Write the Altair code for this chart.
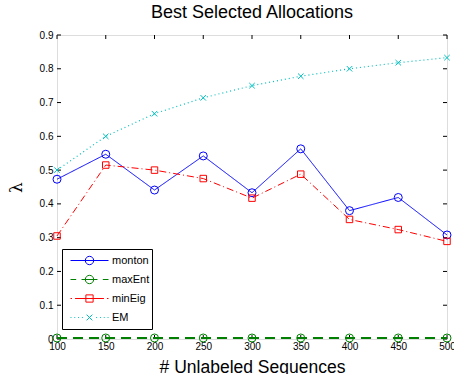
import altair as alt
import pandas as pd

# ---- data ----
x_vals = [100, 150, 200, 250, 300, 350, 400, 450, 500]
monton = [0.473, 0.547, 0.441, 0.542, 0.433, 0.563, 0.380, 0.419, 0.308]
max_ent = [0.003, 0.003, 0.003, 0.003, 0.003, 0.003, 0.003, 0.003, 0.003]
min_eig = [0.305, 0.515, 0.500, 0.475, 0.417, 0.488, 0.354, 0.324, 0.289]
em = [0.500, 0.600, 0.667, 0.714, 0.750, 0.778, 0.800, 0.818, 0.833]

series_names = ["monton", "maxEnt", "minEig", "EM"]
series_values = [monton, max_ent, min_eig, em]
colors = ["#0000ff", "#008000", "#ff0000", "#00bfbf"]
dashes = [[1, 0], [10, 6], [7, 3, 1, 3], [1, 3]]
widths = [1, 1.8, 1, 1.2]
marker_shapes = ["circle", "circle", "square", "M-1,-1L1,1M-1,1L1,-1"]
marker_sizes = [64, 64, 42, 30]

# legend symbols: line style + marker in one path
legend_paths = [
    "M-1,0H1M-0.22,0A0.22,0.22 0 1,1 0.22,0A0.22,0.22 0 1,1 -0.22,0Z",
    "M-1,0H-0.7M-0.42,0H0.42M0.7,0H1M-0.22,0A0.22,0.22 0 1,1 0.22,0A0.22,0.22 0 1,1 -0.22,0Z",
    "M-1,0H-0.92M-0.76,0H0.76M0.92,0H1M-0.19,-0.19H0.19V0.19H-0.19Z",
    "M-1,0H-0.95M-0.8,0H-0.75M-0.6,0H-0.55M-0.4,0H-0.35M0.35,0H0.4M0.55,0H0.6M0.75,0H0.8M0.95,0H1"
    "M-0.15,-0.15L0.15,0.15M-0.15,0.15L0.15,-0.15",
]

x_ticks = [100, 150, 200, 250, 300, 350, 400, 450, 500]
y_ticks = [0, 0.1, 0.2, 0.3, 0.4, 0.5, 0.6, 0.7, 0.8, 0.9]

W, H = 390, 304
FONT = "Liberation Sans"

rows = []
for name, vals in zip(series_names, series_values):
    for xv, yv in zip(x_vals, vals):
        rows.append({"n": xv, "lam": yv, "series": name})
df = pd.DataFrame(rows)

x_scale = alt.Scale(domain=[100, 500], nice=False, zero=False)
y_scale = alt.Scale(domain=[0, 0.9], nice=False)

x_axis = alt.Axis(values=x_ticks, title="# Unlabeled Sequences", ticks=False, grid=False,
                  domain=False, labelFlush=False, labelOverlap=False,
                  labelPadding=2, titlePadding=7, titleFontSize=17.5,
                  titleFontWeight="normal", format="d")
y_axis = alt.Axis(values=y_ticks, title="λ", ticks=False, grid=False, domain=False,
                  labelFlush=False, labelOverlap=False, labelPadding=4,
                  labelExpr="datum.value === 0 ? '0' : format(datum.value, '.1f')",
                  titleFont="DejaVu Serif", titleFontSize=17, titleFontWeight="normal",
                  titlePadding=14, titleAngle=270)


def xe(field="n:Q"):
    return alt.X(field, scale=x_scale, axis=x_axis)


def ye(field="lam:Q"):
    return alt.Y(field, scale=y_scale, axis=y_axis)


layers = []
for i, name in enumerate(series_names):
    sub = df[df.series == name]
    line = alt.Chart(sub).mark_line(
        color=colors[i], strokeDash=dashes[i], strokeWidth=widths[i]
    ).encode(x=xe(), y=ye())
    pts = alt.Chart(sub).mark_point(
        shape=marker_shapes[i], size=marker_sizes[i], color=colors[i],
        filled=False, strokeWidth=1, opacity=1
    ).encode(x=xe(), y=ye())
    layers += [line, pts]

# legend-only layer (no marks drawn)
legend_layer = alt.Chart(df).transform_filter("false").mark_point(
    filled=False, strokeWidth=1, opacity=1
).encode(
    x=xe(), y=ye(),
    color=alt.Color(
        "series:N", scale=alt.Scale(domain=series_names, range=colors),
        legend=alt.Legend(
            title=None, orient="none", legendX=5, legendY=214,
            strokeColor="black", fillColor="white", padding=2,
            symbolSize=1444, clipHeight=19, rowPadding=0,
            symbolOffset=6, labelOffset=3, symbolStrokeWidth=1,
            labelFont=FONT, labelFontSize=11, labelColor="black",
            symbolFillColor="transparent",
        ),
    ),
    shape=alt.Shape("series:N", scale=alt.Scale(domain=series_names, range=legend_paths)),
)

# inward ticks on all four sides
xt = pd.DataFrame({"n": x_ticks})
yt = pd.DataFrame({"lam": y_ticks})
tick_x_top = alt.Chart(xt).mark_rule(color="black", strokeWidth=1).encode(
    x=xe(), y=alt.value(0), y2=alt.value(4))
tick_x_bot = alt.Chart(xt).mark_rule(color="black", strokeWidth=1).encode(
    x=xe(), y=alt.value(H), y2=alt.value(H - 4))
tick_y_left = alt.Chart(yt).mark_rule(color="black", strokeWidth=1).encode(
    y=ye(), x=alt.value(0), x2=alt.value(4))
tick_y_right = alt.Chart(yt).mark_rule(color="black", strokeWidth=1).encode(
    y=ye(), x=alt.value(W), x2=alt.value(W - 4))

chart = alt.layer(
    tick_x_top, tick_x_bot, tick_y_left, tick_y_right, *layers, legend_layer
).properties(
    width=W, height=H,
    title=alt.Title("Best Selected Allocations", fontSize=18, fontWeight="normal",
                    font=FONT, color="black", offset=8),
    autosize=alt.AutoSizeParams(type="none"),
    padding={"left": 57, "top": 35, "right": 7, "bottom": 35},
).configure_view(
    stroke="black", strokeWidth=1.3
).configure_axis(
    grid=False, labelFont=FONT, labelFontSize=11, labelColor="black",
    titleFont=FONT, titleColor="black",
).configure(background="white")

chart.save("out.html", embed_options={"renderer": "svg", "actions": False})
